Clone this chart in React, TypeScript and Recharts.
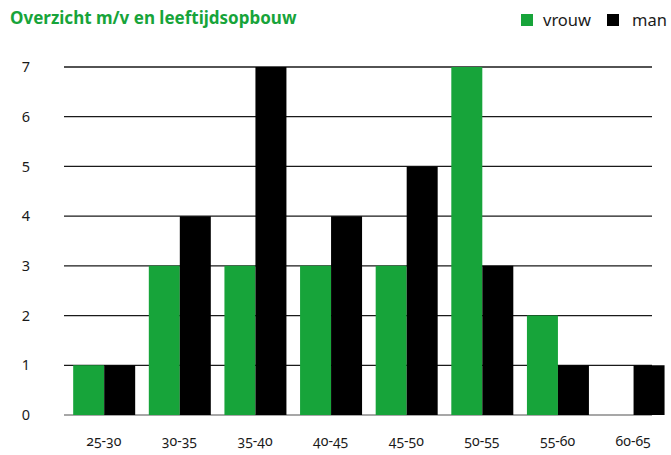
import React from 'react';
import { BarChart, Bar, XAxis, YAxis, CartesianGrid } from 'recharts';

const categories = ['25-30', '30-35', '35-40', '40-45', '45-50', '50-55', '55-60', '60-65'];
const vrouw = [1, 3, 3, 3, 3, 7, 2, 0];
const man = [1, 4, 7, 4, 5, 3, 1, 1];
const yTicks = [0, 1, 2, 3, 4, 5, 6, 7];

const GREEN = '#17a43a';
const FONT = '"Noto Sans", "Open Sans", sans-serif';

const data = categories.map((c, i) => ({ cat: c, vrouw: vrouw[i], man: man[i] }));

const GridLine = (props: any) => {
  const { x1, x2, y1, y2 } = props;
  const isBase = Math.abs(y1 - 415) < 1;
  return (
    <line
      x1={x1 - 2}
      x2={x2 - 19}
      y1={y1}
      y2={y2}
      stroke={isBase ? '#8a8a8a' : '#1a1a1a'}
      strokeWidth={isBase ? 1.6 : 1.3}
    />
  );
};

export default function App() {
  return (
    <div style={{ position: 'absolute', left: 0, top: 0, width: 671, height: 455, background: '#fff', fontFamily: FONT }}>
      <div style={{ position: 'absolute', left: 10, top: 6, fontSize: 17, fontWeight: 700, color: GREEN, fontFamily: FONT, whiteSpace: 'nowrap' }}>
        Overzicht m/v en leeftijdsopbouw
      </div>
      <div style={{ position: 'absolute', left: 521, top: 8, display: 'flex', alignItems: 'center', fontSize: 16.5, color: '#1a1a1a', fontFamily: FONT, whiteSpace: 'nowrap' }}>
        <span style={{ display: 'inline-block', width: 12, height: 12, background: GREEN, marginRight: 10 }} />
        <span style={{ marginRight: 16 }}>vrouw</span>
        <span style={{ display: 'inline-block', width: 12, height: 12, background: '#000', marginRight: 13 }} />
        <span>man</span>
      </div>
      <BarChart
        width={671}
        height={455}
        data={data}
        margin={{ top: 67, right: 0, left: 0, bottom: 0 }}
        barCategoryGap="9.5%"
        barGap={0}
      >
        <CartesianGrid vertical={false} horizontal={GridLine} />
        <XAxis
          dataKey="cat"
          height={40}
          axisLine={false}
          tickLine={false}
          tickSize={0}
          tickMargin={21}
          tick={{ fontSize: 14, fill: '#1a1a1a', fontFamily: FONT, style: { fontFeatureSettings: '"onum" 1', fontVariantNumeric: 'oldstyle-nums' } }}
          interval={0}
        />
        <YAxis
          width={66}
          domain={[0, 7]}
          ticks={yTicks}
          axisLine={false}
          tickLine={false}
          tickSize={0}
          tickMargin={36}
          tick={{ fontSize: 14.5, fill: '#1a1a1a', fontFamily: FONT }}
        />
        <Bar dataKey="vrouw" fill={GREEN} isAnimationActive={false} />
        <Bar dataKey="man" fill="#000" isAnimationActive={false} />
      </BarChart>
    </div>
  );
}
